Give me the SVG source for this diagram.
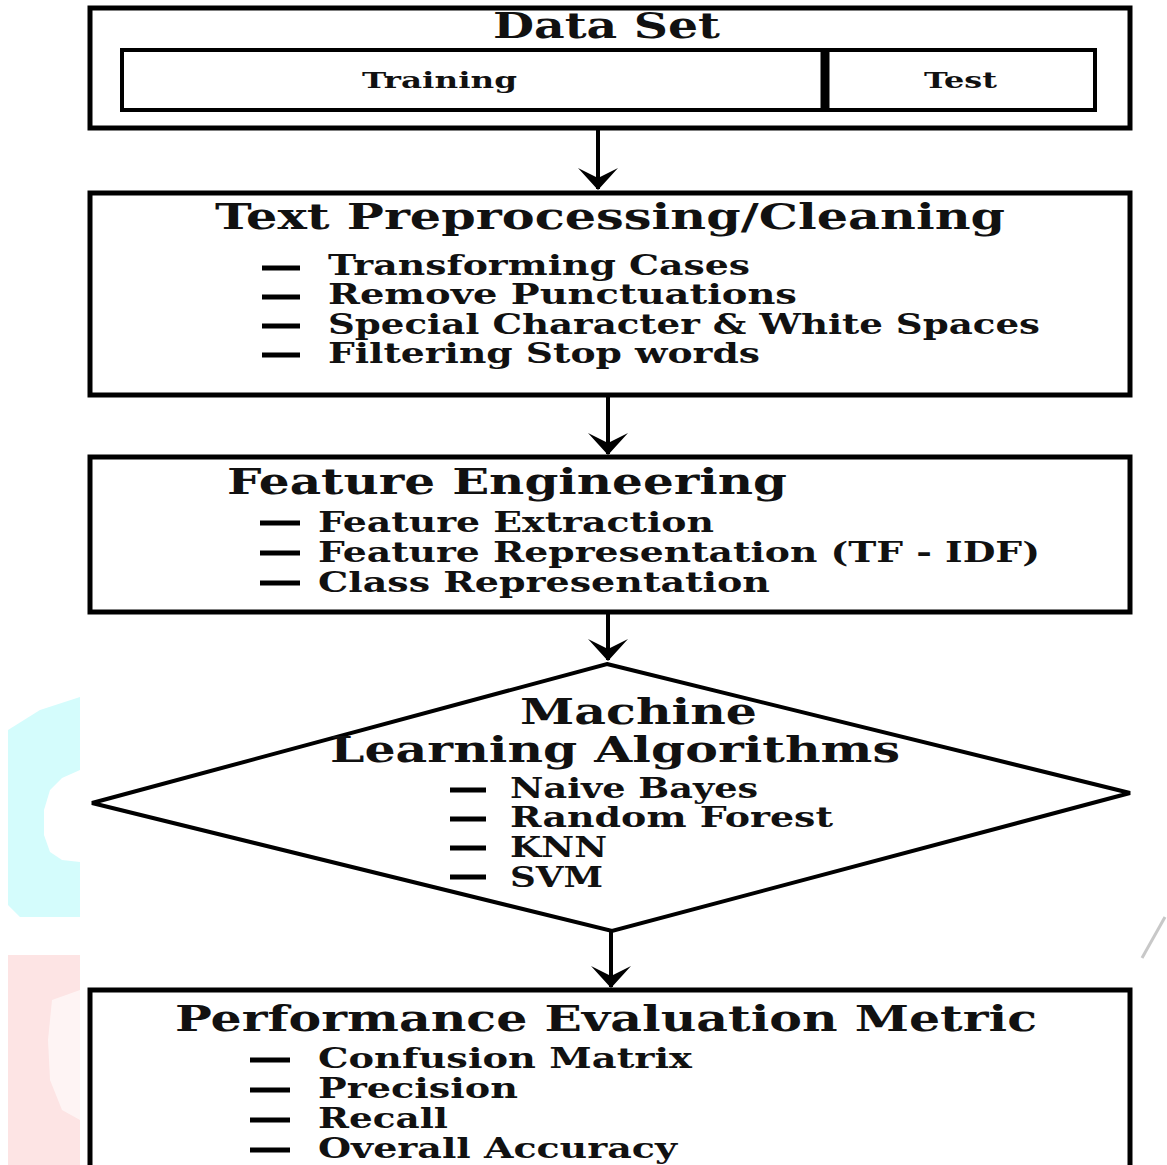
<svg xmlns="http://www.w3.org/2000/svg" width="1167" height="1165" viewBox="0 0 1167 1165">
<defs>
<style>
.box{fill:#fff;stroke:#000;stroke-width:5}
.inner{fill:#fff;stroke:#000;stroke-width:4}
.t{font-family:"DejaVu Serif","Liberation Serif",serif;font-weight:bold;fill:#111}
.h{font-size:35px}
.i{font-size:27px}
.s{font-size:23px}
.dash{stroke:#000;stroke-width:5}
.conn{stroke:#000;stroke-width:4;fill:none}
</style>
<marker id="arr" markerUnits="userSpaceOnUse" markerWidth="26" markerHeight="44" viewBox="-23 -22 26 44" refX="0" refY="0" orient="auto">
<path d="M1 0 L-21 -20 L-11 0 L-21 20 Z" fill="#000"/>
</marker>
</defs>
<rect width="1167" height="1165" fill="#fff"/>
<g id="watermark">
<path d="M8 730 L40 710 L80 697 L80 770 L62 778 L50 790 L44 810 L44 835 L50 852 L62 860 L80 862 L80 917 L20 917 L8 905 Z" fill="#d4fcfc"/>
<path d="M8 955 L80 955 L80 1165 L8 1165 Z" fill="#fde4e4"/>
<path d="M52 1000 L80 990 L80 1120 L62 1110 L50 1080 L48 1040 Z" fill="#fff" opacity="0.6"/>
<path d="M1142 958 L1165 917" stroke="#c8c8c8" stroke-width="3"/>
</g>
<g id="connectors">
<line class="conn" x1="598" y1="128" x2="598" y2="189" marker-end="url(#arr)"/>
<line class="conn" x1="608" y1="395" x2="608" y2="454" marker-end="url(#arr)"/>
<line class="conn" x1="608" y1="612" x2="608" y2="660" marker-end="url(#arr)"/>
<line class="conn" x1="611" y1="932" x2="611" y2="987" marker-end="url(#arr)"/>
</g>
<g id="dataset">
<rect class="box" x="90" y="8" width="1040" height="120"/>
<text class="t h" x="493" y="38" textLength="227" lengthAdjust="spacingAndGlyphs">Data Set</text>
<rect class="inner" x="122" y="50" width="973" height="60"/>
<line x1="825" y1="50" x2="825" y2="110" stroke="#000" stroke-width="9"/>
<text class="t s" x="362" y="88" textLength="155" lengthAdjust="spacingAndGlyphs">Training</text>
<text class="t s" x="924" y="88" textLength="73" lengthAdjust="spacingAndGlyphs">Test</text>
</g>
<g id="preprocessing">
<rect class="box" x="90" y="193" width="1040" height="202"/>
<text class="t h" x="215" y="229" textLength="790" lengthAdjust="spacingAndGlyphs">Text Preprocessing/Cleaning</text>
<line class="dash" x1="262" y1="268" x2="300" y2="268"/>
<line class="dash" x1="262" y1="297" x2="300" y2="297"/>
<line class="dash" x1="262" y1="326" x2="300" y2="326"/>
<line class="dash" x1="262" y1="355" x2="300" y2="355"/>
<text class="t i" x="328" y="275" textLength="422" lengthAdjust="spacingAndGlyphs">Transforming Cases</text>
<text class="t i" x="328" y="304" textLength="469" lengthAdjust="spacingAndGlyphs">Remove Punctuations</text>
<text class="t i" x="328" y="334" textLength="712" lengthAdjust="spacingAndGlyphs">Special Character &amp; White Spaces</text>
<text class="t i" x="328" y="363" textLength="432" lengthAdjust="spacingAndGlyphs">Filtering Stop words</text>
</g>
<g id="feature">
<rect class="box" x="90" y="457" width="1040" height="155"/>
<text class="t h" x="227" y="494" textLength="560" lengthAdjust="spacingAndGlyphs">Feature Engineering</text>
<line class="dash" x1="260" y1="523" x2="300" y2="523"/>
<line class="dash" x1="260" y1="553" x2="300" y2="553"/>
<line class="dash" x1="260" y1="583" x2="300" y2="583"/>
<text class="t i" x="318" y="532" textLength="396" lengthAdjust="spacingAndGlyphs">Feature Extraction</text>
<text class="t i" x="318" y="562" textLength="722" lengthAdjust="spacingAndGlyphs">Feature Representation (TF - IDF)</text>
<text class="t i" x="318" y="592" textLength="452" lengthAdjust="spacingAndGlyphs">Class Representation</text>
</g>
<g id="ml">
<polygon points="607,664 1130,793 612,931 92,803" fill="#fff" stroke="#000" stroke-width="4"/>
<text class="t h" x="520" y="724" textLength="237" lengthAdjust="spacingAndGlyphs">Machine</text>
<text class="t h" x="330" y="762" textLength="570" lengthAdjust="spacingAndGlyphs">Learning Algorithms</text>
<line class="dash" x1="450" y1="790" x2="486" y2="790"/>
<line class="dash" x1="450" y1="819" x2="486" y2="819"/>
<line class="dash" x1="450" y1="848" x2="486" y2="848"/>
<line class="dash" x1="450" y1="877" x2="486" y2="877"/>
<text class="t i" x="510" y="798" textLength="248" lengthAdjust="spacingAndGlyphs">Naive Bayes</text>
<text class="t i" x="510" y="827" textLength="323" lengthAdjust="spacingAndGlyphs">Random Forest</text>
<text class="t i" x="510" y="857" textLength="97" lengthAdjust="spacingAndGlyphs">KNN</text>
<text class="t i" x="510" y="887" textLength="93" lengthAdjust="spacingAndGlyphs">SVM</text>
</g>
<g id="evaluation">
<rect class="box" x="90" y="990" width="1040" height="190"/>
<text class="t h" x="175" y="1031" textLength="862" lengthAdjust="spacingAndGlyphs">Performance Evaluation Metric</text>
<line class="dash" x1="250" y1="1060" x2="290" y2="1060"/>
<line class="dash" x1="250" y1="1090" x2="290" y2="1090"/>
<line class="dash" x1="250" y1="1120" x2="290" y2="1120"/>
<line class="dash" x1="250" y1="1150" x2="290" y2="1150"/>
<text class="t i" x="318" y="1068" textLength="374" lengthAdjust="spacingAndGlyphs">Confusion Matrix</text>
<text class="t i" x="318" y="1098" textLength="200" lengthAdjust="spacingAndGlyphs">Precision</text>
<text class="t i" x="318" y="1128" textLength="130" lengthAdjust="spacingAndGlyphs">Recall</text>
<text class="t i" x="318" y="1158" textLength="359" lengthAdjust="spacingAndGlyphs">Overall Accuracy</text>
</g>
</svg>
